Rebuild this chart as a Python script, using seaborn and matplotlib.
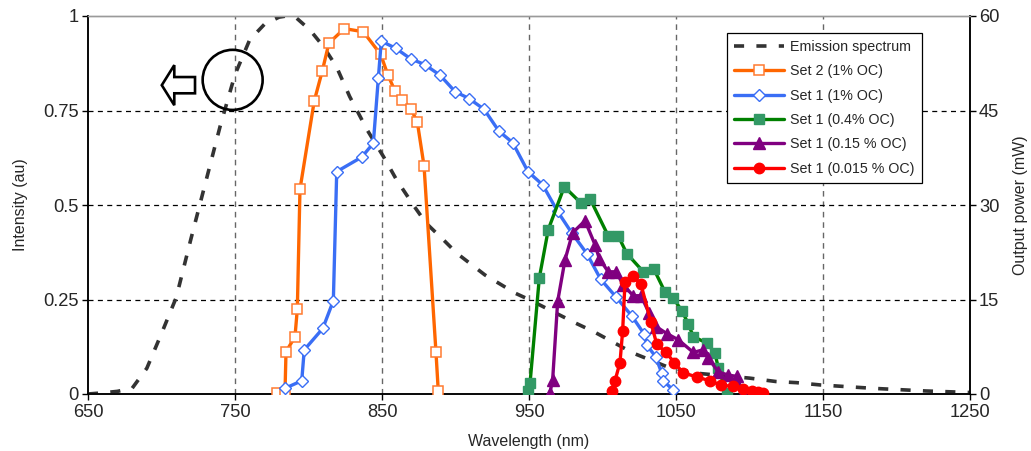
import matplotlib
matplotlib.use("Agg")
import matplotlib.pyplot as plt
import matplotlib.patches as mpatches
from matplotlib.lines import Line2D
import numpy as np
import pandas as pd
import seaborn as sns

# Normalised emission spectrum (left axis, au)
em_nm = [650, 660, 670, 680, 690, 700, 710, 720, 730, 740, 750, 760, 770, 780,
         785, 792, 801, 810, 819, 828, 840, 851, 860, 872, 880, 892, 901, 920,
         941, 950, 982, 994, 1021, 1044, 1064, 1100, 1118, 1132, 1148, 1184,
         1220, 1250]
em_au = [0.0, 0.003, 0.007, 0.015, 0.068, 0.16, 0.255, 0.41, 0.56, 0.71, 0.845,
         0.937, 0.978, 0.997, 1.0, 0.994, 0.963, 0.92, 0.866, 0.787, 0.698, 0.628,
         0.566, 0.496, 0.452, 0.407, 0.372, 0.315, 0.266, 0.25, 0.187, 0.165,
         0.108, 0.072, 0.055, 0.042, 0.033, 0.030, 0.024, 0.015, 0.008, 0.004]

# Output power (right axis, mW)
set2_1_nm = [778.4, 784.0, 784.7, 790.8, 792.4, 794.2, 803.9, 809.4, 813.9, 824.4,
             837.3, 849.1, 853.9, 858.8, 863.8, 869.5, 874.0, 878.6, 886.7, 888.3]
set2_1_mw = [0.2, 0.2, 6.7, 9.1, 13.5, 32.5, 46.5, 51.3, 55.7, 58.0,
             57.5, 53.9, 50.7, 48.1, 46.7, 45.3, 43.2, 36.2, 6.7, 0.4]

set1_1_nm = [784.0, 795.4, 797.1, 809.7, 816.9, 819.2, 836.2, 844.1, 847.5, 849.5,
             859.2, 869.5, 879.0, 889.5, 899.7, 909.2, 919.4, 929.6, 938.9, 949.3,
             959.3, 969.4, 979.0, 989.3, 998.8, 1009.2, 1019.9, 1028.4, 1030.1,
             1036.2, 1040.3, 1041.4, 1048.2]
set1_1_mw = [0.9, 2.1, 7.0, 10.4, 14.8, 35.3, 37.6, 39.8, 50.1, 56.0,
             54.9, 53.2, 52.3, 50.6, 48.0, 46.9, 45.2, 41.7, 39.9, 35.3,
             33.2, 29.0, 25.6, 22.3, 18.2, 15.4, 12.4, 9.5, 7.8,
             5.9, 3.3, 2.1, 0.6]

set1_04_nm = [949.5, 950.7, 957.0, 963.1, 974.0, 985.4, 991.5, 1003.9, 1010.7,
              1016.5, 1027.8, 1035.0, 1042.5, 1048.2, 1054.3, 1058.4, 1061.8,
              1070.9, 1076.5, 1078.8, 1084.5]
set1_04_mw = [0.4, 1.7, 18.4, 26.1, 32.9, 30.3, 31.0, 25.1, 25.1,
              22.3, 19.4, 19.8, 16.2, 15.2, 13.1, 11.1, 9.1,
              8.1, 6.5, 4.1, 0.1]

set1_015_nm = [964.3, 966.1, 969.5, 974.5, 979.7, 988.1, 994.9, 997.8, 1003.9,
               1009.2, 1014.2, 1020.9, 1026.2, 1031.8, 1036.4, 1043.7, 1051.6,
               1061.8, 1068.2, 1072.0, 1078.8, 1085.6, 1091.3, 1095.8]
set1_015_mw = [0.2, 2.3, 14.7, 21.3, 25.6, 27.5, 23.7, 21.5, 19.4,
               19.4, 17.3, 15.6, 15.6, 12.8, 10.7, 9.6, 8.6,
               6.6, 7.0, 5.7, 3.5, 3.0, 2.8, 0.0]

set1_0015_nm = [1006.3, 1008.5, 1011.9, 1013.7, 1015.3, 1021.0, 1026.2, 1032.8,
                1036.9, 1043.2, 1048.8, 1054.6, 1064.1, 1073.1, 1080.6, 1089.0,
                1095.8, 1101.5, 1106.0, 1109.4]
set1_0015_mw = [0.4, 2.1, 5.0, 10.0, 17.7, 18.7, 17.4, 11.5,
                7.9, 6.6, 5.0, 3.4, 2.7, 2.1, 1.4, 1.2,
                0.8, 0.5, 0.3, 0.1]

x_ticks = [650, 750, 850, 950, 1050, 1150, 1250]
left_ticks = [0, 0.25, 0.5, 0.75, 1]
left_tick_labels = ["0", "0.25", "0.5", "0.75", "1"]
right_ticks = [0, 15, 30, 45, 60]

sns.set_style("white")
plt.rcParams["font.family"] = ["Liberation Sans", "DejaVu Sans"]

fig = plt.figure(figsize=(10.31, 4.51), dpi=100)
ax = fig.add_axes([88 / 1031, 57 / 451, 882 / 1031, 378 / 451])
ax2 = ax.twinx()

# emission spectrum on the intensity axis
em_df = pd.DataFrame({"nm": em_nm, "au": em_au})
sns.lineplot(data=em_df, x="nm", y="au", ax=ax, color="#333333", lw=2.6,
             sort=False, estimator=None, zorder=3)
ax.lines[-1].set_dashes([2.8, 3.4])

series = [
    ("Set 2 (1% OC)", set2_1_nm, set2_1_mw,
     dict(color="#FF6600", marker="s", ms=7.5, mfc="white", mec="#FF7A30", mew=1.1)),
    ("Set 1 (1% OC)", set1_1_nm, set1_1_mw,
     dict(color="#3A6EF5", marker="D", ms=5.8, mfc="white", mec="#3A6EF5", mew=1.0)),
    ("Set 1 (0.4% OC)", set1_04_nm, set1_04_mw,
     dict(color="#008000", marker="s", ms=7.5, mfc="#339966", mec="#339966", mew=1.0)),
    ("Set 1 (0.15 % OC)", set1_015_nm, set1_015_mw,
     dict(color="#800080", marker="^", ms=8, mfc="#800080", mec="#800080", mew=1.0)),
    ("Set 1 (0.015 % OC)", set1_0015_nm, set1_0015_mw,
     dict(color="#FF0000", marker="o", ms=7.5, mfc="#FF0000", mec="#FF0000", mew=1.0)),
]

handles = [Line2D([], [], color="#333333", lw=2.6, dashes=[2.8, 3.4])]
labels = ["Emission spectrum"]
for i, (name, xs, ys, st) in enumerate(series):
    df = pd.DataFrame({"nm": xs, "mw": ys})
    sns.lineplot(data=df, x="nm", y="mw", ax=ax2, lw=2.4, sort=False,
                 estimator=None, zorder=3 + i, **st)
    handles.append(Line2D([], [], lw=2.4, **st))
    labels.append(name)

# axis ranges and ticks
ax.set_xlim(650, 1250)
ax.set_ylim(0, 1)
ax2.set_ylim(0, 60)
ax.set_xticks(x_ticks)
ax.set_yticks(left_ticks)
ax.set_yticklabels(left_tick_labels)
ax2.set_yticks(right_ticks)

for a in (ax, ax2):
    a.tick_params(axis="both", direction="out", length=4.5, width=1.0,
                  color="black", labelsize=13.2, pad=2)
ax.tick_params(axis="y", left=True, right=False)
ax.tick_params(axis="x", bottom=True, pad=3)
ax2.tick_params(axis="y", right=True, left=False)

ax.set_xlabel("Wavelength (nm)", fontsize=11.5, labelpad=9)
ax.set_ylabel("Intensity (au)", fontsize=11.5, labelpad=11)
ax2.set_ylabel("Output power (mW)", fontsize=11.5, labelpad=10)

# grid: grey dashed verticals, black dashed horizontals
for xv in [750, 850, 950, 1050, 1150]:
    ax.axvline(xv, color="#666666", lw=1.0, dashes=[4, 3.5], zorder=1)
for yv in [0.25, 0.5, 0.75]:
    ax.axhline(yv, color="black", lw=0.9, dashes=[4, 3.5], zorder=1)

for a in (ax, ax2):
    for side in ("left", "right", "bottom"):
        a.spines[side].set_color("black")
        a.spines[side].set_linewidth(1.1)
    a.spines["top"].set_color("#9a9a9a")
    a.spines["top"].set_linewidth(1.0)

# circled marker with an arrow pointing to the intensity axis
circ = mpatches.Ellipse((748.4, 0.831), width=40.8, height=0.159,
                        fill=False, ec="black", lw=1.9, zorder=6)
ax.add_patch(circ)
arrow = mpatches.FancyArrow(722.8, 0.817, -22.6, 0, width=0.043,
                            head_width=0.106, head_length=8.5,
                            length_includes_head=True, fc="white",
                            ec="black", lw=1.9, zorder=6)
ax.add_patch(arrow)

leg = ax2.legend(handles, labels, loc="upper right",
                 bbox_to_anchor=(0.9456, 0.955), borderaxespad=0,
                 fontsize=10.3, frameon=True, fancybox=False,
                 edgecolor="black", framealpha=1, handlelength=3.5,
                 handletextpad=0.45, labelspacing=0.72, borderpad=0.5)
leg.get_frame().set_linewidth(0.9)

fig.savefig("out.png", dpi=100)
